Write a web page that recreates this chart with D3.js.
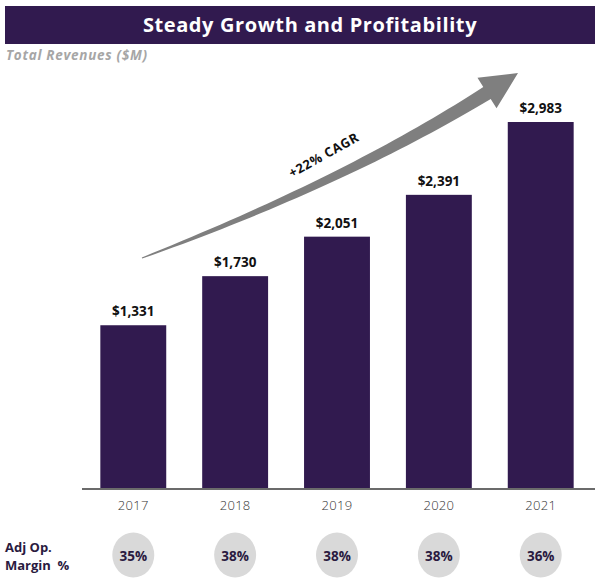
<!DOCTYPE html>
<html>
<head>
<meta charset="utf-8">
<script src="https://cdn.jsdelivr.net/npm/d3@7"></script>
<style>
  html, body { margin: 0; padding: 0; background: #fff; }
  svg { display: block; font-family: "Open Sans", "Noto Sans", sans-serif; }
</style>
</head>
<body>
<svg id="chart" width="595" height="588"></svg>
<script>
const years = ["2017", "2018", "2019", "2020", "2021"];
const revenues = [1331, 1730, 2051, 2391, 2983];
const margins = ["35%", "38%", "38%", "38%", "36%"];
const titleText = "Steady Growth and Profitability";
const subtitleText = "Total Revenues ($M)";
const cagrText = "+22% CAGR";
const marginLabel = ["Adj Op.", "Margin  %"];

const purple = "#311a4f";
const svg = d3.select("#chart");

// Title bar
svg.append("rect").attr("x", 5).attr("y", 6).attr("width", 590).attr("height", 38).attr("fill", purple);
svg.append("text").attr("x", 310).attr("y", 32).attr("text-anchor", "middle")
  .attr("fill", "#fff").attr("font-size", 20).attr("font-weight", 700)
  .attr("letter-spacing", 0.6).text(titleText);

svg.append("text").attr("x", 6).attr("y", 60).attr("fill", "#a6a6a6")
  .attr("font-size", 13.5).attr("font-weight", 700).attr("font-style", "italic")
  .attr("letter-spacing", 0.7).text(subtitleText);

// Scales
const x = d3.scaleBand().domain(years).range([82, 592]).paddingInner(0.353).paddingOuter(0.18);
const baseY = 489;
const y = d3.scaleLinear().domain([0, 2983]).range([baseY, 122]);

// Bars
svg.selectAll("rect.bar").data(revenues).join("rect").attr("class", "bar")
  .attr("x", (d, i) => x(years[i])).attr("width", x.bandwidth())
  .attr("y", d => y(d)).attr("height", d => baseY - y(d)).attr("fill", purple);

// Value labels
svg.selectAll("text.val").data(revenues).join("text").attr("class", "val")
  .attr("x", (d, i) => x(years[i]) + x.bandwidth() / 2).attr("y", d => y(d) - 9)
  .attr("text-anchor", "middle").attr("font-size", 13.5).attr("font-weight", 700).attr("fill", "#111")
  .text(d => "$" + d3.format(",")(d));

// Axis
const axis = d3.axisBottom(x).tickSize(0).tickPadding(12);
const ag = svg.append("g").attr("transform", `translate(0,${baseY})`).call(axis);
ag.select(".domain").attr("stroke", "#6b6b6b").attr("stroke-width", 2).attr("d", "M82,0H595");
ag.selectAll("text").attr("font-size", 13).attr("font-weight", 300).attr("fill", "#333")
  .attr("letter-spacing", 0.3).attr("font-family", "'Open Sans', sans-serif");

// Margin circles
const cy = 555;
svg.selectAll("ellipse.m").data(margins).join("ellipse").attr("class", "m")
  .attr("cx", (d, i) => x(years[i]) + x.bandwidth() / 2).attr("cy", cy)
  .attr("rx", 21).attr("ry", 22.5).attr("fill", "#d9d9d9");
svg.selectAll("text.m").data(margins).join("text").attr("class", "m")
  .attr("x", (d, i) => x(years[i]) + x.bandwidth() / 2).attr("y", cy + 5.5)
  .attr("text-anchor", "middle").attr("font-size", 13.5).attr("font-weight", 700).attr("fill", "#2a1a40")
  .text(d => d);

svg.selectAll("text.ml").data(marginLabel).join("text").attr("class", "ml")
  .attr("x", 5).attr("y", (d, i) => 552 + i * 18)
  .attr("font-size", 13).attr("font-weight", 700).attr("fill", "#2a1a40")
  .attr("xml:space", "preserve").style("white-space", "pre").text(d => d);

// Curved tapered arrow
const P0 = [142, 258], C = [346, 181], P2 = [487, 93], tip = [518, 73];
function bez(t) {
  const u = 1 - t;
  return [u*u*P0[0] + 2*u*t*C[0] + t*t*P2[0], u*u*P0[1] + 2*u*t*C[1] + t*t*P2[1]];
}
function tan(t) {
  const dx = 2*(1-t)*(C[0]-P0[0]) + 2*t*(P2[0]-C[0]);
  const dy = 2*(1-t)*(C[1]-P0[1]) + 2*t*(P2[1]-C[1]);
  const l = Math.hypot(dx, dy);
  return [dx/l, dy/l];
}
const N = 40, upper = [], lower = [];
for (let k = 0; k <= N; k++) {
  const t = k / N, p = bez(t), d = tan(t), w = 0.5 + 6.5 * Math.pow(t, 0.8);
  const nx = d[1], ny = -d[0];
  upper.push([p[0] + nx * w, p[1] + ny * w]);
  lower.push([p[0] - nx * w, p[1] - ny * w]);
}
const dEnd = tan(1), nE = [dEnd[1], -dEnd[0]], hw = 18;
const headL = [P2[0] + nE[0]*hw, P2[1] + nE[1]*hw];
const headR = [P2[0] - nE[0]*hw, P2[1] - nE[1]*hw];
const pts = upper.concat([headL, tip, headR]).concat(lower.reverse());
svg.append("path").attr("d", d3.line()(pts) + "Z").attr("fill", "#7f7f7f");

svg.append("text").attr("transform", "translate(326,159) rotate(-29)")
  .attr("text-anchor", "middle").attr("font-size", 13).attr("font-weight", 700).attr("fill", "#111")
  .attr("letter-spacing", 0.6).text(cagrText);
</script>
</body>
</html>
